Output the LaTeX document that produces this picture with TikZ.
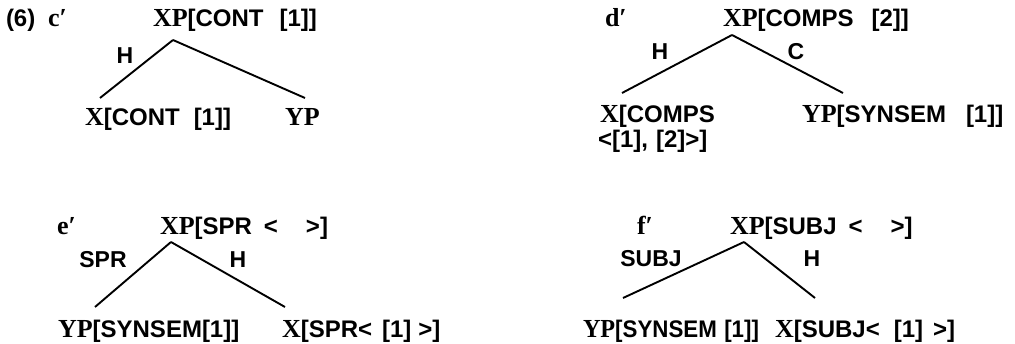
\documentclass[tikz,border=0pt]{standalone}
\usepackage{fontspec}
\usepackage{graphicx}
\setmainfont{Liberation Serif}
\newfontfamily\lsans{Liberation Sans}
\newcommand\gap[1]{\hspace*{#1pt}}
% serif category letters a little larger than the sans features
\newcommand\cat[1]{{\fontsize{26}{26}\selectfont #1}}
\tikzset{
  txt/.style={anchor=base west, inner sep=0pt, outer sep=0pt,
    font=\fontsize{24}{24}\selectfont\bfseries},
  edgelab/.style={anchor=center, inner sep=0pt,
    font=\fontsize{23}{23}\selectfont\lsans\bfseries},
  branch/.style={line width=1.9pt},
}
\begin{document}
\begin{tikzpicture}[x=1pt, y=-1pt]
\useasboundingbox (0,0) rectangle (1015,344);

% ---- (6) c'
\node[txt] (c-num) at (6,27) {\lsans(6)};
\node[txt] (c-tag) at (48,27) {\cat{c′}};
\node[txt] (c-m) at (153,27) {\cat{XP}\lsans[CONT\gap{16}[1]]};
\node[txt] (c-hd) at (85,126) {\cat{X}\lsans[CONT\gap{14}[1]]};
\node[txt] (c-yp) at (285,126) {\cat{YP}};
\coordinate (c-top) at (173,40);
\coordinate (c-l) at (100,98);
\coordinate (c-r) at (305,98);
\draw[branch] (c-top) -- (c-l);
\draw[branch] (c-top) -- (c-r);
\node[edgelab] (c-H) at (125,56) {H};

% ---- d'
\node[txt] (d-tag) at (605,27) {\cat{d′}};
\node[txt] (d-m) at (723,27) {\cat{XP}\lsans[COMPS\gap{18}[2]]};
\node[txt] (d-hd) at (600,123) {\cat{X}\lsans[COMPS};
\node[txt] (d-hd2) at (598,148) {\lsans<[1],\gap{8}[2]>]};
\node[txt] (d-cp) at (802,123) {\cat{YP}\lsans[SYNSEM\gap{20}[1]]};
\coordinate (d-top) at (732,35);
\coordinate (d-l) at (622,93);
\coordinate (d-r) at (843,93);
\draw[branch] (d-top) -- (d-l);
\draw[branch] (d-top) -- (d-r);
\node[edgelab] (d-H) at (660,52) {H};
\node[edgelab] (d-C) at (796,52) {C};

% ---- e'
\node[txt] (e-tag) at (57,235) {\cat{e′}};
\node[txt] (e-m) at (160,235) {\cat{XP}\lsans[SPR\gap{12}<\gap{28}>]};
\node[txt] (e-sp) at (58,338) {\cat{YP}\lsans[SYNSEM[1]]};
\node[txt] (e-hd) at (282,338) {\cat{X}\lsans[SPR<\gap{10}[1]\gap{7}>]};
\coordinate (e-top) at (171,242);
\coordinate (e-l) at (95,307);
\coordinate (e-r) at (285,307);
\draw[branch] (e-top) -- (e-l);
\draw[branch] (e-top) -- (e-r);
\node[edgelab] (e-SPR) at (103,260) {SPR};
\node[edgelab] (e-H) at (238,260) {H};

% ---- f'
\node[txt] (f-tag) at (637,235) {\cat{f′}};
\node[txt] (f-m) at (730,235) {\cat{XP}\lsans[SUBJ\gap{12}<\gap{28}>]};
\node[txt] (f-sb) at (583,338) {\resizebox{176pt}{\height}{\cat{YP}\lsans[SYNSEM\gap{8}[1]]}};
\node[txt] (f-hd) at (775,338) {\cat{X}\lsans[SUBJ<\gap{14}[1]\gap{10}>]};
\coordinate (f-top) at (744,242);
\coordinate (f-l) at (623,298);
\coordinate (f-r) at (815,298);
\draw[branch] (f-top) -- (f-l);
\draw[branch] (f-top) -- (f-r);
\node[edgelab] (f-SUBJ) at (651,259) {SUBJ};
\node[edgelab] (f-H) at (812,259) {H};
\end{tikzpicture}
\end{document}
